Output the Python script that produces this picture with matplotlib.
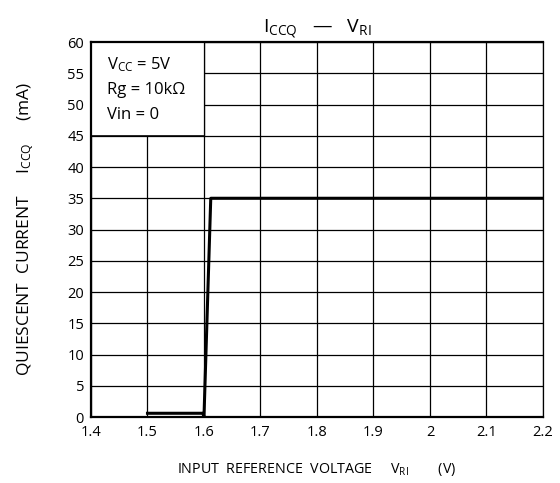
import matplotlib.pyplot as plt
from matplotlib.patches import Rectangle

plt.rcParams['font.family'] = ['Open Sans', 'DejaVu Sans']
plt.rcParams['mathtext.fontset'] = 'custom'
plt.rcParams['mathtext.rm'] = 'Open Sans'
plt.rcParams['mathtext.it'] = 'Open Sans'

# I_CCQ vs V_RI curve
v_ri = [1.5, 1.598, 1.600, 1.612, 2.2]
i_ccq = [0.6, 0.6, 0.0, 35.0, 35.0]

x_ticks = [1.4, 1.5, 1.6, 1.7, 1.8, 1.9, 2.0, 2.1, 2.2]
x_labels = ['1.4', '1.5', '1.6', '1.7', '1.8', '1.9', '2', '2.1', '2.2']
y_ticks = list(range(0, 61, 5))

fig = plt.figure(figsize=(5.6, 4.83), dpi=100)
ax = fig.add_axes([0.1625, 0.1366, 0.807, 0.7764])

ax.set_xlim(1.4, 2.2)
ax.set_ylim(0, 60)
ax.set_xticks(x_ticks)
ax.set_xticklabels(x_labels)
ax.set_yticks(y_ticks)
ax.tick_params(length=0, labelsize=10.5)
ax.tick_params(axis='x', pad=6)
ax.tick_params(axis='y', pad=5)
ax.grid(True, color='black', linewidth=0.9)
ax.set_axisbelow(True)

for side in ['left', 'bottom', 'top']:
    ax.spines[side].set_linewidth(1.6)
ax.spines['right'].set_linewidth(0.9)

# white box over the grid for the conditions
ax.add_patch(Rectangle((1.4, 45), 0.2, 15, facecolor='white', edgecolor='none', zorder=1.5))
ax.plot([1.4, 1.6], [45, 45], color='black', linewidth=1.2, zorder=1.6)
ax.plot([1.6, 1.6], [45, 60], color='black', linewidth=0.9, zorder=1.6)

ax.text(1.428, 56.4, r'$\mathregular{V_{CC}}$ = 5V', fontsize=12, va='center')
ax.text(1.428, 52.4, 'Rg = 10kΩ', fontsize=12, va='center')
ax.text(1.428, 48.4, 'Vin = 0', fontsize=12, va='center')

ax.plot(v_ri, i_ccq, color='black', linewidth=2.2, zorder=3)

ax.set_title(r'$\mathregular{I_{CCQ}}$   —   $\mathregular{V_{RI}}$', fontsize=14, pad=7)
ax.set_xlabel(r'INPUT  REFERENCE  VOLTAGE     $\mathregular{V_{RI}}$        (V)',
              fontsize=10.3, labelpad=15)
ax.set_ylabel(r'QUIESCENT  CURRENT     $\mathregular{I_{CCQ}}$     (mA)',
              fontsize=12.5, labelpad=22)

fig.savefig('out.png', dpi=100)
